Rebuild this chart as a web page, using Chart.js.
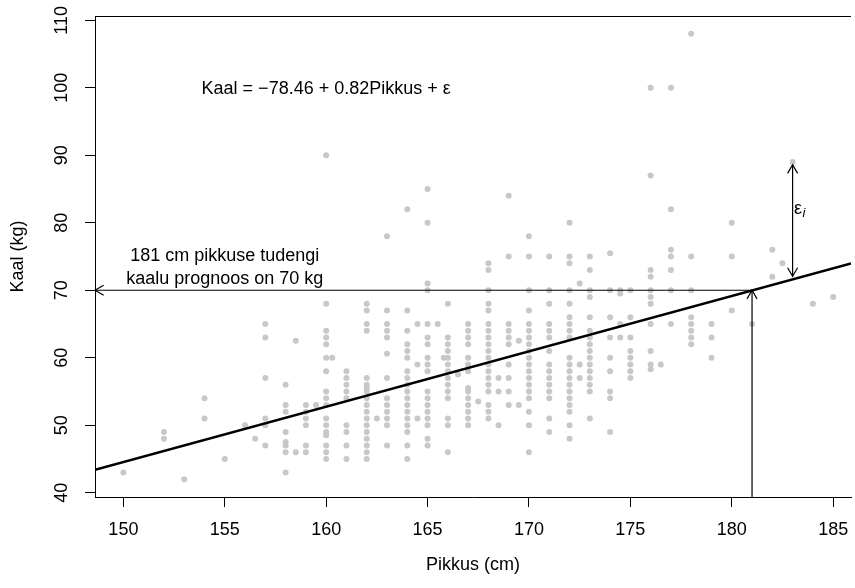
<!DOCTYPE html>
<html>
<head>
<meta charset="utf-8">
<script src="https://cdn.jsdelivr.net/npm/chart.js@4/dist/chart.umd.min.js"></script>
<style>
html, body { margin: 0; padding: 0; background: #fff; overflow: hidden; }
</style>
</head>
<body>
<canvas id="myChart" width="855" height="588"></canvas>
<script>
// pikkus (cm) ja sellele vastavad kaalud (kg)
var pikkused = [150, 152, 153, 154, 155, 156, 156.5, 157, 158, 158.5, 159, 159.5, 160, 160.3, 161, 162, 162.5, 163, 164, 164.5,
  165, 165.5, 165.8, 166, 166.5, 167, 167.5, 168, 168.5, 169, 169.5, 170, 171, 172, 172.5, 173, 174, 174.5, 175, 176,
  176.5, 177, 178, 179, 180, 181, 182, 182.5, 183, 184, 185];
var kaalud = [
  [43], [49, 48], [42], [54, 51], [45], [50], [48],
  [65, 63, 57, 51, 50, 47],
  [56, 53, 52, 49, 47.5, 47, 46, 43],
  [62.5, 46],
  [53, 52, 51, 50, 47, 46],
  [53],
  [90, 68, 64, 63, 62, 60, 58, 55, 54, 53, 51, 50, 49, 48.5, 47, 46, 45],
  [60],
  [58, 57, 56, 55, 54, 50, 49, 47, 45],
  [68, 67, 65, 64, 57, 56, 55.5, 55, 54, 53, 52, 51, 50, 49, 48, 47, 46, 45],
  [51],
  [78, 67, 65, 64, 63, 60.6, 57, 54, 53, 52, 51, 50, 47],
  [82, 67, 64, 62, 61, 60, 58, 57, 56, 55, 54, 53, 52, 51, 50, 49, 47, 45],
  [65, 59, 51],
  [85, 80, 71, 70, 65, 63, 62, 60, 59, 58, 55, 54, 53, 52, 51, 50, 48, 47],
  [65],
  [60],
  [68, 63, 62, 61, 60, 59, 58, 57, 56, 55, 54, 51, 50, 46],
  [57.5],
  [65, 64, 63, 62, 60, 59, 58, 55.5, 55, 54, 53, 52, 51, 50],
  [53.5],
  [74, 73, 70, 68, 67, 65, 64, 63, 62, 61, 60, 59, 58, 57, 56, 55, 53, 52, 51],
  [57, 55, 50],
  [84, 75, 65, 64, 63, 62, 59, 57, 55, 53],
  [62.5, 53],
  [78, 75, 70, 67, 65, 64, 63, 62, 61, 60, 59, 58, 57, 56, 55, 54, 52, 50, 46],
  [75, 70, 68, 65, 64, 63, 61, 59, 58, 57, 56, 55, 54, 51, 49],
  [80, 75, 74, 70, 68, 66, 65, 64, 63, 60, 59, 58, 57, 56, 55, 54, 53, 52, 50, 48],
  [71, 59, 57],
  [75, 73, 70, 69, 66, 64, 63, 62, 61, 60, 59, 58, 57, 56, 55, 51],
  [75.5, 70, 66, 63, 60, 58, 55, 54, 49],
  [70, 69.5, 65, 63],
  [70, 66, 63, 61, 60, 59, 58, 57],
  [100, 87, 73, 72, 70, 69, 68, 65, 61, 59, 58.3],
  [59],
  [100, 82, 76, 75, 73, 70, 65],
  [108, 75, 70, 66, 65, 64, 63, 62],
  [65, 63, 60],
  [80, 75, 67],
  [65],
  [76, 72],
  [74],
  [89],
  [68],
  [69]
];
var xTicks = [150, 155, 160, 165, 170, 175, 180, 185];
var yTicks = [40, 50, 60, 70, 80, 90, 100, 110];
var xMin = 148.6, xMax = 185.88;
var yMin = 39.36, yMax = 110.64;

// regressioonisirge
var vabaliige = -78.46;
var tous = 0.82;

// prognoos ja jääk
var prognoosPikkus = 181, prognoosKaal = 70;
var jaakPikkus = 183, jaakYlem = 88.6, jaakAlum = 72.05;

var punktid = [];
for (var i = 0; i < pikkused.length; i++) {
  for (var j = 0; j < kaalud[i].length; j++) {
    punktid.push({x: pikkused[i], y: kaalud[i][j]});
  }
}
var sirge = [
  {x: xMin, y: vabaliige + tous * xMin},
  {x: xMax, y: vabaliige + tous * xMax}
];

var fontPere = '"Liberation Sans", Arial, Helvetica, sans-serif';
Chart.defaults.font.family = fontPere;
Chart.defaults.font.size = 18;
Chart.defaults.color = '#000';

function nool(ctx, x0, y0, x1, y1) {
  var a = Math.atan2(y1 - y0, x1 - x0), L = 10, w = Math.PI / 6;
  ctx.beginPath();
  ctx.moveTo(x1 - L * Math.cos(a - w), y1 - L * Math.sin(a - w));
  ctx.lineTo(x1, y1);
  ctx.lineTo(x1 - L * Math.cos(a + w), y1 - L * Math.sin(a + w));
  ctx.stroke();
}

var markused = {
  id: 'markused',
  afterDatasetsDraw: function(chart) {
    var ctx = chart.ctx, xs = chart.scales.x, ys = chart.scales.y, area = chart.chartArea;
    ctx.save();
    ctx.strokeStyle = '#000';
    ctx.lineWidth = 1;
    // kasti ülemine serv
    ctx.beginPath();
    ctx.moveTo(area.left, area.top + 0.5);
    ctx.lineTo(area.right, area.top + 0.5);
    ctx.stroke();

    ctx.lineWidth = 1.2;
    var px = xs.getPixelForValue(prognoosPikkus), py = ys.getPixelForValue(prognoosKaal);
    // horisontaalne nool vasakule
    ctx.beginPath();
    ctx.moveTo(px, py);
    ctx.lineTo(xs.getPixelForValue(xMin), py);
    ctx.stroke();
    nool(ctx, px, py, xs.getPixelForValue(xMin), py);
    // vertikaalne nool alt üles
    ctx.beginPath();
    ctx.moveTo(px, ys.getPixelForValue(yMin));
    ctx.lineTo(px, py);
    ctx.stroke();
    nool(ctx, px, ys.getPixelForValue(yMin), px, py);
    // jääk
    var jx = xs.getPixelForValue(jaakPikkus);
    var j1 = ys.getPixelForValue(jaakYlem), j2 = ys.getPixelForValue(jaakAlum);
    ctx.beginPath();
    ctx.moveTo(jx, j1);
    ctx.lineTo(jx, j2);
    ctx.stroke();
    nool(ctx, jx, j2, jx, j1);
    nool(ctx, jx, j1, jx, j2);

    ctx.fillStyle = '#000';
    ctx.font = '18px ' + fontPere;
    ctx.textAlign = 'center';
    ctx.textBaseline = 'alphabetic';
    ctx.fillText('Kaal = \u221278.46 + 0.82Pikkus + \u03b5', xs.getPixelForValue(160), ys.getPixelForValue(100) + 6);
    var ty = ys.getPixelForValue(74);
    ctx.fillText('181 cm pikkuse tudengi', xs.getPixelForValue(155), ty - 2);
    ctx.fillText('kaalu prognoos on 70 kg', xs.getPixelForValue(155), ty + 20.6);

    ctx.textAlign = 'left';
    var ex = xs.getPixelForValue(jaakPikkus) + 1.5, ey = ys.getPixelForValue(82) + 4.5;
    ctx.fillText('\u03b5', ex, ey);
    var ew = ctx.measureText('\u03b5').width;
    ctx.font = 'italic 13px ' + fontPere;
    ctx.fillText('i', ex + ew + 0.5, ey + 3.5);
    ctx.restore();
  }
};

var ctx = document.getElementById('myChart').getContext('2d');
var chart = new Chart(ctx, {
  type: 'scatter',
  data: {
    datasets: [{
      label: 'Tudengid',
      data: punktid,
      backgroundColor: 'rgb(200, 200, 200)',
      borderWidth: 0,
      pointRadius: 3,
      order: 2
    }, {
      label: 'Sirge',
      data: sirge,
      showLine: true,
      borderColor: '#000',
      borderWidth: 2.5,
      pointRadius: 0,
      order: 1
    }]
  },
  options: {
    responsive: false,
    animation: false,
    layout: { padding: { top: 16, left: 0, right: 0, bottom: 0 } },
    plugins: { legend: { display: false }, tooltip: { enabled: false } },
    scales: {
      x: {
        type: 'linear',
        min: xMin,
        max: xMax,
        afterBuildTicks: function(axis) {
          axis.ticks = xTicks.map(function(v) { return {value: v}; });
        },
        afterFit: function(scale) {
          scale.height = 91;
          scale.paddingLeft = 0;
          scale.paddingRight = 0;
        },
        ticks: { autoSkip: false, maxRotation: 0, padding: 12 },
        grid: { drawOnChartArea: false, tickLength: 10, color: '#000' },
        border: { color: '#000', width: 1 },
        title: { display: true, text: 'Pikkus (cm)', padding: { top: 0, bottom: 12 } }
      },
      y: {
        type: 'linear',
        min: yMin,
        max: yMax,
        afterBuildTicks: function(axis) {
          axis.ticks = yTicks.map(function(v) { return {value: v}; });
        },
        afterFit: function(scale) {
          scale.width = 95;
          scale.paddingTop = 0;
          scale.paddingBottom = 0;
        },
        ticks: { autoSkip: false, minRotation: 90, maxRotation: 90, crossAlign: 'center', padding: 8 },
        grid: { drawOnChartArea: false, tickLength: 10, color: '#000' },
        border: { color: '#000', width: 1 },
        title: { display: true, text: 'Kaal (kg)', padding: { top: 7, bottom: 0 } }
      }
    }
  },
  plugins: [markused]
});
</script>
</body>
</html>
